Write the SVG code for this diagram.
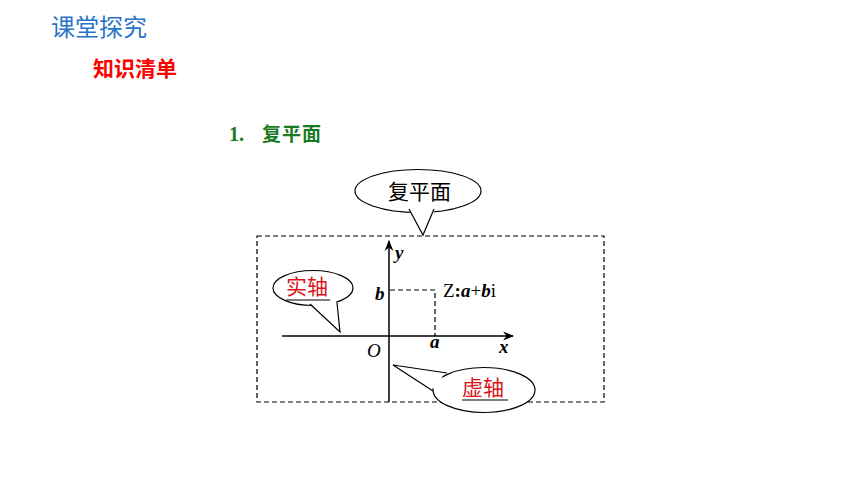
<svg xmlns="http://www.w3.org/2000/svg" width="860" height="484" viewBox="0 0 860 484">
<style>
.cjk{font-family:"Noto Sans CJK SC","Noto Sans",sans-serif}
.m{font-family:"Liberation Serif","DejaVu Serif",serif;font-style:italic;font-weight:bold}
.ln{fill:none;stroke:#000;stroke-width:1.5}
.dash{fill:none;stroke:#000;stroke-width:1.2;stroke-dasharray:5,3}
.bub{fill:#fff;stroke:#000;stroke-width:1.2}
.red{fill:#d9161b}
</style>
<defs>
<marker id="ar" viewBox="0 0 10 10" refX="9" refY="5" markerWidth="11" markerHeight="11" markerUnits="userSpaceOnUse" orient="auto">
<path d="M0,1 L10,5 L0,9 L3,5 Z" fill="#000"/>
</marker>
</defs>
<rect width="860" height="484" fill="#fff"/>
<g id="header">
<text x="51" y="36" class="cjk" font-size="24" fill="#2a74c8">课堂探究</text>
<text x="93" y="76" class="cjk" font-size="21" font-weight="bold" fill="#ff0000">知识清单</text>
<text x="229" y="141" font-family="Liberation Serif,serif" font-size="20" font-weight="bold" fill="#1a7a22">1.</text>
<text x="262" y="141" class="cjk" font-size="19" font-weight="bold" fill="#1a7a22" letter-spacing="1">复平面</text>
</g>
<g id="connectors">
<rect id="plane" x="257" y="236" width="347" height="166" class="dash"/>
<line x1="282" y1="336" x2="513" y2="336" class="ln" marker-end="url(#ar)"/>
<line x1="389" y1="402" x2="389" y2="241" class="ln" marker-end="url(#ar)"/>
<polyline points="390,290 435,290 435,336" class="dash"/>
</g>
<g id="labels">
<text x="395" y="259" class="m" font-size="19">y</text>
<text x="375" y="300" class="m" font-size="19">b</text>
<text x="443" y="297" font-family="Liberation Serif,serif" font-size="19">Z<tspan font-weight="bold">:</tspan><tspan font-style="italic" font-weight="bold">a</tspan>+<tspan font-style="italic" font-weight="bold">b</tspan>i</text>
<text x="367" y="357" font-family="Liberation Serif,serif" font-style="italic" font-size="19">O</text>
<text x="430" y="348" class="m" font-size="19">a</text>
<text x="499" y="353" class="m" font-size="19">x</text>
</g>
<g id="bubble-plane">
<ellipse cx="418" cy="191" rx="63" ry="21.5" class="bub"/>
<path d="M408,208 L423,234 L436,208 Z" fill="#fff"/>
<path d="M409,209 L423,235 L434,209" fill="none" stroke="#000" stroke-width="1.2"/>
<text x="388" y="199" class="cjk" font-size="21">复平面</text>
</g>
<g id="bubble-real">
<ellipse cx="313" cy="288" rx="40" ry="17.5" class="bub"/>
<path d="M308,302 L340,332 L336,300 Z" fill="#fff"/>
<path d="M310,304 L340,332 L337,303" fill="none" stroke="#000" stroke-width="1.2"/>
<text x="286" y="294" class="cjk red" font-size="21">实轴</text>
<line x1="286" y1="300" x2="330" y2="300" stroke="#000" stroke-width="1.2"/>
</g>
<g id="bubble-imag">
<ellipse cx="484" cy="390" rx="51" ry="22.5" class="bub"/>
<path d="M445,371 L393,365 L436,390 Z" fill="#fff"/>
<path d="M447,373 L393,365 L433,391" fill="none" stroke="#000" stroke-width="1.2"/>
<text x="462" y="395" class="cjk red" font-size="21">虚轴</text>
<line x1="462" y1="400" x2="508" y2="400" stroke="#000" stroke-width="1.2"/>
</g>
</svg>
